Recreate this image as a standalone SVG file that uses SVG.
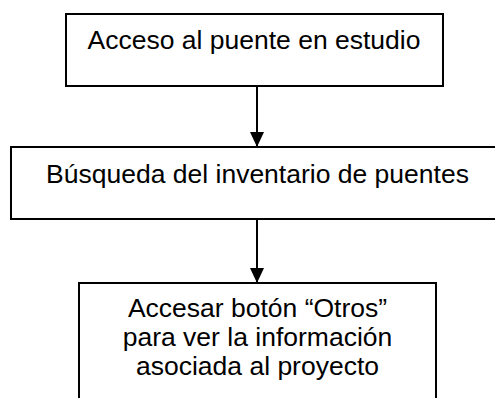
<svg xmlns="http://www.w3.org/2000/svg" width="495" height="398" viewBox="0 0 495 398">
<style>
.box{fill:#fff;stroke:#000;stroke-width:2}
.t{font-family:"Liberation Sans",Arial,sans-serif;font-size:26.5px;fill:#000;text-anchor:middle}
.c{stroke:#000;stroke-width:2;fill:none}
</style>
<defs>
<marker id="ah" markerWidth="15" markerHeight="14" refX="15" refY="7" orient="auto" markerUnits="userSpaceOnUse" viewBox="0 0 15 14">
<path d="M0,0 L15,7 L0,14 Z" fill="#000"/>
</marker>
</defs>
<rect width="495" height="398" fill="#fff"/>
<g id="n1">
<rect class="box" x="66" y="14" width="377" height="72"/>
<text class="t" x="254" y="49">Acceso al puente en estudio</text>
</g>
<g id="n2">
<rect class="box" x="11" y="147" width="490" height="72"/>
<text class="t" x="257.5" y="183">Búsqueda del inventario de puentes</text>
</g>
<g id="n3">
<rect class="box" x="79" y="283" width="357" height="130"/>
<text class="t" x="257.5" y="317">Accesar botón “Otros”</text>
<text class="t" x="257.5" y="346">para ver la información</text>
<text class="t" x="257.5" y="375">asociada al proyecto</text>
</g>
<g id="connectors">
<path class="c" d="M257,86 V147" marker-end="url(#ah)"/>
<path class="c" d="M257,219 V283" marker-end="url(#ah)"/>
</g>
</svg>
